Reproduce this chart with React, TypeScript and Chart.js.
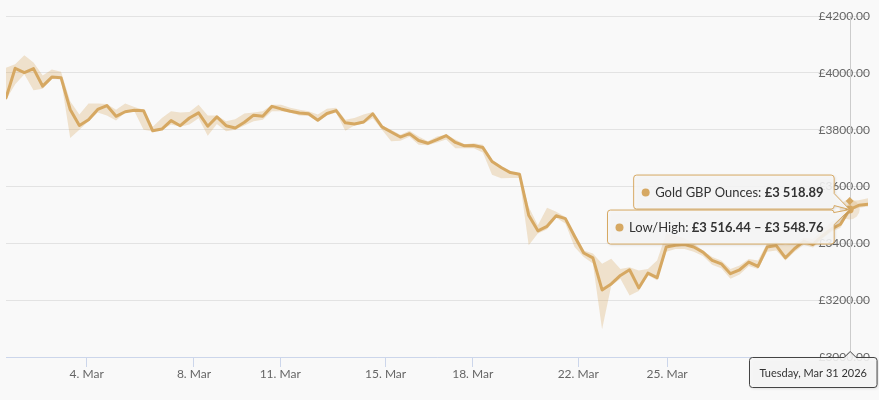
import { useEffect, useRef } from 'react';
import { Chart, registerables } from 'chart.js';

Chart.register(...registerables);

// gold price in GBP per ounce, roughly 3 samples a day through March 2026
const closeValues = [
  3912, 4016, 4001, 4015, 3953, 3985, 3983, 3871, 3815, 3835,
  3871, 3885, 3847, 3863, 3868, 3867, 3796, 3802, 3832, 3814,
  3841, 3859, 3812, 3845, 3814, 3806, 3826, 3851, 3847, 3882,
  3873, 3865, 3859, 3856, 3833, 3857, 3867, 3824, 3820, 3827,
  3856, 3810, 3792, 3774, 3786, 3762, 3752, 3765, 3779, 3755,
  3743, 3744, 3737, 3688, 3667, 3649, 3643, 3499, 3444, 3460,
  3497, 3487, 3425, 3366, 3349, 3236, 3257, 3287, 3307, 3243,
  3295, 3279, 3387, 3393, 3396, 3387, 3369, 3340, 3328, 3293,
  3307, 3334, 3319, 3387, 3392, 3349, 3382, 3407, 3396, 3425,
  3450, 3467, 3518.89, 3534, 3538,
];

const highValues = [
  4018, 4030, 4062, 4036, 3991, 4012, 4004, 3900, 3853, 3892,
  3892, 3890, 3870, 3892, 3880, 3870, 3810, 3841, 3865, 3860,
  3862, 3888, 3850, 3850, 3830, 3837, 3857, 3860, 3865, 3888,
  3888, 3877, 3870, 3865, 3853, 3874, 3877, 3835, 3841, 3853,
  3862, 3815, 3800, 3782, 3796, 3776, 3759, 3776, 3782, 3765,
  3749, 3752, 3747, 3694, 3670, 3652, 3647, 3528, 3464, 3525,
  3511, 3493, 3435, 3375, 3364, 3328, 3346, 3310, 3316, 3304,
  3310, 3340, 3435, 3428, 3417, 3399, 3375, 3352, 3340, 3310,
  3322, 3345, 3340, 3399, 3405, 3395, 3400, 3420, 3415, 3445,
  3475, 3490, 3548.76, 3552, 3559,
];

const lowValues = [
  3905, 3960, 3995, 3939, 3944, 3978, 3977, 3771, 3800, 3830,
  3860, 3850, 3832, 3860, 3865, 3800, 3794, 3800, 3818, 3810,
  3818, 3840, 3779, 3820, 3794, 3800, 3815, 3830, 3835, 3865,
  3865, 3860, 3850, 3848, 3830, 3850, 3860, 3796, 3815, 3822,
  3840, 3800, 3759, 3761, 3775, 3747, 3745, 3755, 3765, 3735,
  3735, 3735, 3720, 3641, 3629, 3630, 3630, 3393, 3435, 3450,
  3490, 3470, 3387, 3352, 3329, 3098, 3251, 3275, 3216, 3232,
  3288, 3270, 3370, 3380, 3380, 3370, 3355, 3325, 3312, 3275,
  3290, 3320, 3310, 3370, 3375, 3340, 3370, 3395, 3385, 3415,
  3440, 3455, 3516.44, 3525, 3530,
];

// date ticks, as positions on the sample index axis
const tickLabels = ['4. Mar', '8. Mar', '11. Mar', '15. Mar', '18. Mar', '22. Mar', '25. Mar'];
const tickPositions = [8.8, 20.5, 29.9, 41.4, 50.9, 62.4, 72.1];

const hoverIndex = 92;
const hoverDate = 'Tuesday, Mar 31 2026';

const GOLD = '#d6a862';
const FONT = 'Lato';

const fmt = (v: number) => {
  const [i, d] = v.toFixed(2).split('.');
  return '£' + i.replace(/\B(?=(\d{3})+$)/g, ' ') + '.' + d;
};

function boxPath(ctx: CanvasRenderingContext2D, x: number, y: number, w: number, h: number, r: number,
  side: 'right' | 'top', ax: number, ay: number, c1 = 0, c2 = 0) {
  ctx.beginPath();
  ctx.moveTo(x + r, y);
  if (side === 'top') {
    ctx.lineTo(ax - 6, y);
    ctx.lineTo(ax, ay);
    ctx.lineTo(ax + 6, y);
  }
  ctx.lineTo(x + w - r, y);
  ctx.arcTo(x + w, y, x + w, y + r, r);
  if (side === 'right') {
    ctx.lineTo(x + w, c1);
    ctx.lineTo(ax, ay);
    ctx.lineTo(x + w, c2);
  }
  ctx.lineTo(x + w, y + h - r);
  ctx.arcTo(x + w, y + h, x + w - r, y + h, r);
  ctx.lineTo(x + r, y + h);
  ctx.arcTo(x, y + h, x, y + h - r, r);
  ctx.lineTo(x, y + r);
  ctx.arcTo(x, y, x + r, y, r);
  ctx.closePath();
}

function fillBox(ctx: CanvasRenderingContext2D, border: string) {
  ctx.save();
  ctx.fillStyle = 'rgba(247,247,247,0.88)';
  ctx.shadowColor = 'rgba(0,0,0,0.15)';
  ctx.shadowBlur = 3;
  ctx.shadowOffsetX = 1;
  ctx.shadowOffsetY = 1;
  ctx.fill();
  ctx.restore();
  ctx.strokeStyle = border;
  ctx.lineWidth = 1;
  ctx.stroke();
}

const hoverPlugin = {
  id: 'hoverTip',
  beforeDatasetsDraw(chart: any) {
    const { ctx, chartArea, scales } = chart;
    const px = Math.round(scales.x.getPixelForValue(hoverIndex)) + 0.5;
    ctx.save();
    ctx.strokeStyle = '#cccccc';
    ctx.lineWidth = 1;
    ctx.beginPath();
    ctx.moveTo(px, chartArea.top);
    ctx.lineTo(px, chartArea.bottom);
    ctx.stroke();
    ctx.restore();
  },
  afterDraw(chart: any) {
    const { ctx, scales } = chart;
    const px = scales.x.getPixelForValue(hoverIndex);
    const py = scales.y.getPixelForValue(closeValues[hoverIndex]);
    const hy = scales.y.getPixelForValue(highValues[hoverIndex]);
    ctx.save();

    // hover markers
    ctx.fillStyle = 'rgba(214,168,98,0.25)';
    ctx.beginPath();
    ctx.arc(px, py, 10, 0, Math.PI * 2);
    ctx.fill();
    ctx.fillStyle = GOLD;
    ctx.beginPath();
    ctx.arc(px, py, 4, 0, Math.PI * 2);
    ctx.fill();
    ctx.beginPath();
    ctx.moveTo(px, hy - 4);
    ctx.lineTo(px + 4, hy);
    ctx.lineTo(px, hy + 4);
    ctx.lineTo(px - 4, hy);
    ctx.closePath();
    ctx.fill();

    // split tooltips
    const rows = [
      { label: 'Gold GBP Ounces: ', value: fmt(closeValues[hoverIndex]), top: py - 35, callout: 'bottom' },
      { label: 'Low/High: ', value: fmt(lowValues[hoverIndex]) + ' – ' + fmt(highValues[hoverIndex]), top: py, callout: 'top' },
    ];
    const right = px - 16;
    const h = 34;
    rows.forEach((row) => {
      ctx.font = `13px ${FONT}`;
      const w1 = ctx.measureText(row.label).width;
      ctx.font = `bold 13px ${FONT}`;
      const w2 = ctx.measureText(row.value).width;
      const w = 22 + w1 + w2 + 10;
      const x = right - w;
      const c1 = row.callout === 'bottom' ? row.top + h - 15 : row.top + 3;
      const c2 = row.callout === 'bottom' ? row.top + h - 3 : row.top + 15;
      boxPath(ctx, x + 0.5, row.top + 0.5, w, h, 3, 'right', px, py, c1, c2);
      fillBox(ctx, GOLD);
      const cy = row.top + h / 2 + 1;
      ctx.fillStyle = GOLD;
      ctx.beginPath();
      ctx.arc(x + 12.5, cy, 4, 0, Math.PI * 2);
      ctx.fill();
      ctx.fillStyle = '#333333';
      ctx.textBaseline = 'middle';
      ctx.textAlign = 'left';
      ctx.font = `13px ${FONT}`;
      ctx.fillText(row.label, x + 22, cy);
      ctx.font = `bold 13px ${FONT}`;
      ctx.fillText(row.value, x + 22 + w1, cy);
    });

    // date label under the axis
    ctx.font = `11px ${FONT}`;
    const dw = ctx.measureText(hoverDate).width + 20;
    const dh = 30;
    const dx = Math.min(px - dw / 2, chart.width - 2 - dw);
    const dy = chart.chartArea.bottom;
    boxPath(ctx, Math.round(dx) + 0.5, dy + 0.5, dw, dh, 3, 'top', px + 0.5, dy - 5.5);
    fillBox(ctx, '#444444');
    ctx.fillStyle = '#333333';
    ctx.textBaseline = 'middle';
    ctx.textAlign = 'left';
    ctx.fillText(hoverDate, dx + 10, dy + dh / 2 + 1);
    ctx.restore();
  },
};

const GoldChart = () => {
  const canvasRef = useRef<HTMLCanvasElement>(null);

  useEffect(() => {
    if (!canvasRef.current) return;
    Chart.defaults.font.family = FONT;

    const chart = new Chart(canvasRef.current, {
      type: 'line',
      data: {
        labels: closeValues.map((_, i) => i),
        datasets: [
          {
            label: 'Gold GBP Ounces',
            data: closeValues,
            borderColor: GOLD,
            borderWidth: 3,
            borderJoinStyle: 'round',
            borderCapStyle: 'round',
            pointRadius: 0,
            fill: false,
          },
          {
            label: 'High',
            data: highValues,
            borderWidth: 0,
            pointRadius: 0,
            backgroundColor: 'rgba(214,168,98,0.3)',
            fill: '+1',
          },
          {
            label: 'Low',
            data: lowValues,
            borderWidth: 0,
            pointRadius: 0,
            fill: false,
          },
        ],
      },
      options: {
        animation: false,
        responsive: true,
        maintainAspectRatio: false,
        events: [],
        layout: { padding: { left: 6, right: 11, top: 16, bottom: 0 } },
        plugins: {
          legend: { display: false },
          tooltip: { enabled: false },
        },
        elements: { line: { tension: 0 } },
        scales: {
          x: {
            type: 'linear',
            min: 0,
            max: closeValues.length - 1,
            afterBuildTicks: (scale: any) => {
              scale.ticks = tickPositions.map((v) => ({ value: v }));
            },
            afterFit: (scale: any) => {
              scale.height = 43;
            },
            grid: { drawOnChartArea: false, color: '#ccd6eb', tickLength: 10 },
            border: { color: '#ccd6eb' },
            ticks: {
              autoSkip: false,
              maxRotation: 0,
              padding: 0,
              color: '#666666',
              font: { size: 12 },
              callback: (_v: any, i: number) => tickLabels[i],
            },
          },
          y: {
            position: 'right',
            min: 3000,
            max: 4200,
            afterFit: (scale: any) => {
              scale.width = 0;
            },
            grid: { color: '#e3e3e3', drawTicks: false },
            border: { display: false },
            ticks: {
              stepSize: 200,
              mirror: true,
              padding: 2,
              color: '#666666',
              font: { size: 12 },
              callback: (v: any) => '£' + Number(v).toFixed(2),
            },
          },
        },
      },
      plugins: [hoverPlugin],
    });

    return () => {
      chart.destroy();
    };
  }, []);

  return (
    <div style={{ position: 'fixed', left: 0, top: 0, width: 879, height: 400, background: '#f9f9f9' }}>
      <canvas ref={canvasRef} />
    </div>
  );
};

export default GoldChart;
